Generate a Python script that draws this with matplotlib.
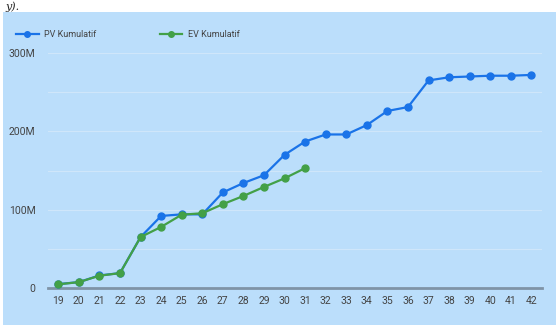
import matplotlib
matplotlib.use("Agg")
import matplotlib.pyplot as plt
from matplotlib.ticker import FuncFormatter, MultipleLocator
from matplotlib.patches import Rectangle

weeks = list(range(19, 43))
pv = [5, 7.5, 16, 19, 65, 92, 94, 94, 122, 134, 144, 170, 187, 196, 196, 208, 226, 231, 265, 269, 270, 271, 271, 272]
ev_weeks = list(range(19, 32))
ev = [4.7, 7.5, 15.7, 19, 65, 78, 93.6, 95.4, 107, 117.5, 129, 140, 153]

pv_vals = [v * 1e6 for v in pv]
ev_vals = [v * 1e6 for v in ev]

BG = "#BBDEFB"
BLUE = "#1A73E8"
GREEN = "#43A047"
W, H = 556, 325

plt.rcParams['font.family'] = ['Roboto', 'DejaVu Sans']
fig = plt.figure(figsize=(W / 100, H / 100), dpi=100)
fig.patch.set_facecolor(BG)
# white strips (document fragment)
fig.patches.append(Rectangle((0, 1 - 12 / H), 1, 12 / H, transform=fig.transFigure,
                             facecolor="white", edgecolor="none", zorder=0))
fig.patches.append(Rectangle((0, 0), 3 / W, 1, transform=fig.transFigure,
                             facecolor="white", edgecolor="none", zorder=0))
fig.text(5 / W, 1 - 10 / H, "y).", fontsize=8, family="DejaVu Serif", style="italic",
         color="#222222", va="baseline", ha="left")

ax = fig.add_axes([48 / W, 1 - 288 / H, (541.7 - 48) / W, (288 - 53) / H])
ax.set_facecolor(BG)
ax.plot(weeks, pv_vals, color=BLUE, lw=1.6, marker="o", ms=5, label="PV Kumulatif", zorder=3)
ax.plot(ev_weeks, ev_vals, color=GREEN, lw=1.6, marker="o", ms=5, label="EV Kumulatif", zorder=4)

ax.set_xlim(18.5, 42.5)
ax.set_ylim(0, 300e6)
ax.set_xticks(weeks)
ax.set_xticklabels([str(w) for w in weeks])
ax.yaxis.set_major_locator(MultipleLocator(100e6))
ax.yaxis.set_minor_locator(MultipleLocator(50e6))
ax.yaxis.set_major_formatter(FuncFormatter(lambda v, p: "0" if v == 0 else f"{int(v/1e6)}M"))
ax.grid(axis="y", which="both", color="#CFE6FA", lw=0.8, zorder=0)
for s in ["top", "right", "left"]:
    ax.spines[s].set_visible(False)
ax.spines["bottom"].set_color("#7F93A6")
ax.spines["bottom"].set_linewidth(2)
ax.tick_params(axis="both", which="both", length=0, labelsize=7.5, colors="#444444")
ax.tick_params(axis="x", pad=6)
ax.tick_params(axis="y", pad=9)

ax.legend(loc="upper left", bbox_to_anchor=(8 / W, 1 - 22 / H), bbox_transform=fig.transFigure,
          ncol=2, frameon=False, fontsize=6.5, handlelength=2.5, columnspacing=7,
          handletextpad=0.6, labelcolor="#444444", markerscale=0.8)

fig.savefig("out.png", dpi=100, facecolor=BG)
